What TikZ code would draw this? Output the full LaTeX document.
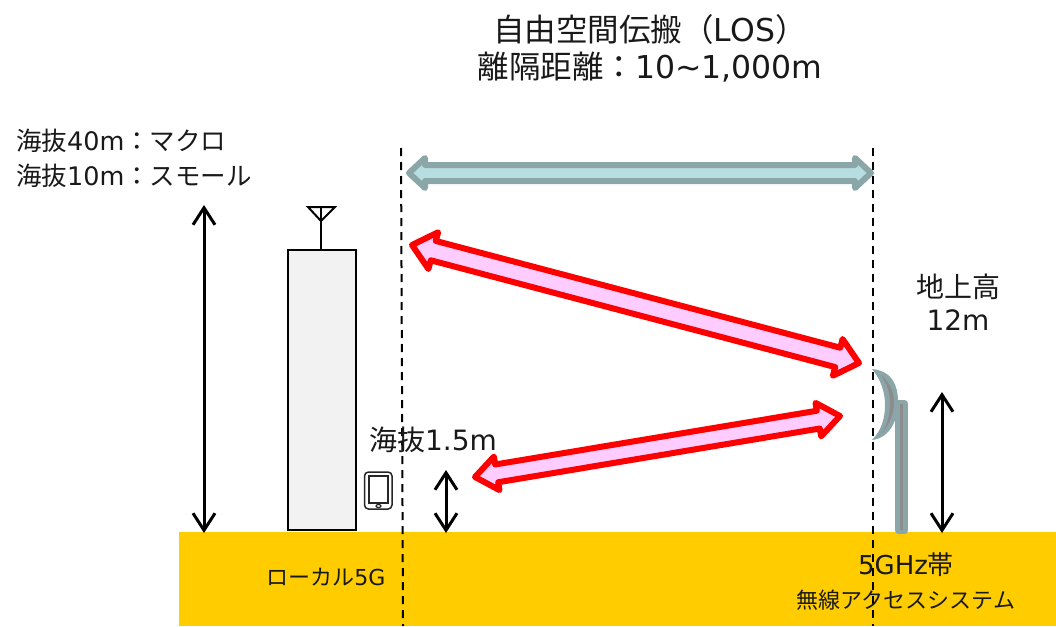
\documentclass[tikz,border=0pt]{standalone}
\usepackage{fontspec}
\setmainfont{DejaVu Sans}
\newfontfamily\cjk{Noto Sans CJK JP}
\usetikzlibrary{arrows.meta,calc}
\definecolor{teal1}{HTML}{8AA6A8}
\definecolor{teal2}{HTML}{B7DEE0}
\definecolor{pinkf}{HTML}{FFCCFF}
\definecolor{groundc}{HTML}{FFCC00}
\definecolor{greyc}{HTML}{8C8C8C}
\tikzset{
  lab/.style={inner sep=0pt,align=center,text=black!90},
  labA/.style={lab,font=\fontsize{31.5}{37}\selectfont},
  labB/.style={lab,font=\fontsize{25.5}{35}\selectfont,align=left},
  labC/.style={lab,font=\fontsize{28}{33}\selectfont},
  labD/.style={lab,font=\fontsize{22}{34}\selectfont},
  tealarrow/.style={draw=teal1,fill=teal2,line width=6pt,line join=round},
  redarrow/.style={draw=red,fill=pinkf,line width=6pt,line join=round},
  dimarrow/.style={draw=black,line width=3pt,{Straight Barb[length=17pt,width=22pt,line width=3pt]}-{Straight Barb[length=17pt,width=22pt,line width=3pt]}},
  guide/.style={draw=black,line width=2pt,dash pattern=on 8pt off 6pt},
  outline/.style={draw=black,line width=2.5pt},
}
% style, end a, end b, head length, head half-width, shaft half-width
\newcommand\blockarrow[6]{%
  \draw[#1] (#2)
   -- ($($(#2)!#4!(#3)$)!#5!90:(#3)$)
   -- ($($(#2)!#4!(#3)$)!#6!90:(#3)$)
   -- ($($(#3)!#4!(#2)$)!#6!-90:(#2)$)
   -- ($($(#3)!#4!(#2)$)!#5!-90:(#2)$)
   -- (#3)
   -- ($($(#3)!#4!(#2)$)!#5!90:(#2)$)
   -- ($($(#3)!#4!(#2)$)!#6!90:(#2)$)
   -- ($($(#2)!#4!(#3)$)!#6!-90:(#3)$)
   -- ($($(#2)!#4!(#3)$)!#5!-90:(#3)$)
   -- cycle;}
\begin{document}
\begin{tikzpicture}[x=1pt,y=-1pt]
\useasboundingbox (0,0) rectangle (1056,626);
% ground
\fill[groundc] (179,532) rectangle (1056,626);
% building
\draw[outline,fill=black!5] (288,250) rectangle (356,530);
\coordinate (bldtop) at (321,250);
\coordinate (anttop) at (321,207);
\draw[outline,line width=2pt] (bldtop) -- (anttop);
\draw[outline,line width=2pt,line join=miter] (308,207) -- (335,207) -- (321,221) -- cycle;
% phone
\draw[draw=black!85,line width=1.5pt,fill=white,rounded corners=4pt] (364.5,472) rectangle (392,509);
\draw[draw=black!85,line width=1.5pt] (369,476) rectangle (388,503);
\draw[draw=black!85,line width=1.2pt] (378.5,506) ellipse (2.5 and 1.5);
% guides
\coordinate (g1t) at (401,148);
\coordinate (g1b) at (403,626);
\coordinate (g2t) at (873,148);
\coordinate (g2b) at (873,626);
\draw[guide] (g1t) -- (g1b);
\draw[guide] (g2t) -- (g2b);
% dish and pole
\fill[teal1] (872,369) .. controls (892,371) and (898,385) .. (898,402)
  .. controls (898,420) and (890,438) .. (872,440)
  .. controls (882,430) and (885,417) .. (885,405)
  .. controls (885,392) and (881,380) .. (872,369) -- cycle;
\fill[greyc] (881,375) .. controls (890,383) and (894,392) .. (894,403)
  .. controls (894,414) and (889,425) .. (882,433)
  .. controls (888,423) and (890,413) .. (890,403)
  .. controls (890,393) and (887,384) .. (881,375) -- cycle;
\draw[draw=teal1,line width=7pt,line join=round,fill=teal1] (898.5,403.5) rectangle (904.5,530.5);
\fill[greyc] (900,404) rectangle (903,530);
% block arrows
\coordinate (ta) at (409,173);
\coordinate (tb) at (871,173);
\blockarrow{tealarrow}{ta}{tb}{16pt}{15pt}{8pt}
\coordinate (ra) at (412,245);
\coordinate (rb) at (859,363);
\blockarrow{redarrow}{ra}{rb}{22pt}{19pt}{10pt}
\coordinate (sa) at (475,477);
\coordinate (sb) at (840,416);
\blockarrow{redarrow}{sa}{sb}{22pt}{17pt}{9pt}
% dimension arrows
\coordinate (d1t) at (204,205);
\coordinate (d1b) at (204,533);
\coordinate (d2t) at (446,470);
\coordinate (d2b) at (446,533);
\coordinate (d3t) at (942,392);
\coordinate (d3b) at (942,533);
\draw[dimarrow] (d1t) -- (d1b);
\draw[dimarrow] (d2t) -- (d2b);
\draw[dimarrow] (d3t) -- (d3b);
% labels
\node[labA] (title) at (650,48) {{\cjk 自由空間伝搬（}LOS{\cjk ）}\\{\cjk 離隔距離：}10\textasciitilde1,000m};
\node[labB,anchor=west] (alt) at (16,158) {{\cjk 海抜}40m{\cjk ：マクロ}\\{\cjk 海抜}10m{\cjk ：スモール}};
\node[labC] (agl) at (958,302) {{\cjk 地上高}\\12m};
\node[labC] (ue) at (433,440) {{\cjk 海抜}1.5m};
\node[labD] (local) at (326,577) {{\cjk ローカル}5G};
\node[labD] (fwa) at (906,581) {{\fontsize{26}{34}\selectfont 5GHz{\cjk 帯}}\\{\cjk 無線アクセスシステム}};
\end{tikzpicture}
\end{document}
